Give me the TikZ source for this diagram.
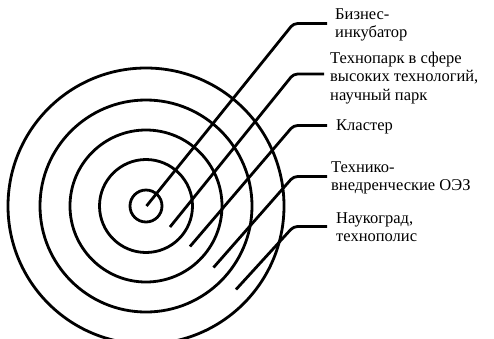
\documentclass[tikz,border=0pt]{standalone}
\usepackage{fontspec}
\setmainfont{Liberation Serif}
\newfontfamily\lblfont{Liberation Serif}
\begin{document}
\begin{tikzpicture}[x=1pt,y=-1pt,
  ring/.style={draw=black,line width=2.8pt},
  leader/.style={draw=black,line width=2.8pt,rounded corners=4pt},
  lbl/.style={anchor=west,inner sep=0pt,align=left,font=\lblfont\fontsize{16.5}{18.5}\selectfont}]
\useasboundingbox (0,0) rectangle (494,338);
\clip (0,0) rectangle (494,338);
\fill[white] (0,0) rectangle (494,338);
\coordinate (c) at (146,206);
\foreach \r in {16,46.5,76,106,138} \draw[ring] (c) circle[radius=\r];
% labels
\node[lbl] (l1) at (335,25) {Бизнес-\\инкубатор};
\node[lbl] (l2) at (330,78) {Технопарк в сфере\\высоких технологий,\\научный парк};
\node[lbl] (l3) at (336,127) {Кластер};
\node[lbl] (l4) at (331,178) {Технико-\\внедренческие ОЭЗ};
\node[lbl] (l5) at (336,227) {Наукоград,\\технополис};
% leader geometry
\coordinate (s1) at (146.5,206);
\coordinate (s2) at (170,227);
\coordinate (s3) at (190,246.5);
\coordinate (s4) at (213.5,267.5);
\coordinate (s5) at (236,289.5);
\coordinate (b1) at (293.5,23.5);
\coordinate (b2) at (293.5,74);
\coordinate (b3) at (293.5,125.5);
\coordinate (b4) at (293.5,176.5);
\coordinate (b5) at (293.5,226.5);
\coordinate (e1) at (327,23.5);
\coordinate (e2) at (324,74);
\coordinate (e3) at (327,125.5);
\coordinate (e4) at (327,176.5);
\coordinate (e5) at (327,226.5);
\draw[leader] (s1) -- (b1) -- (e1);
\draw[leader] (s2) -- (b2) -- (e2);
\draw[leader] (s3) -- (b3) -- (e3);
\draw[leader] (s4) -- (b4) -- (e4);
\draw[leader] (s5) -- (b5) -- (e5);
\end{tikzpicture}
\end{document}
